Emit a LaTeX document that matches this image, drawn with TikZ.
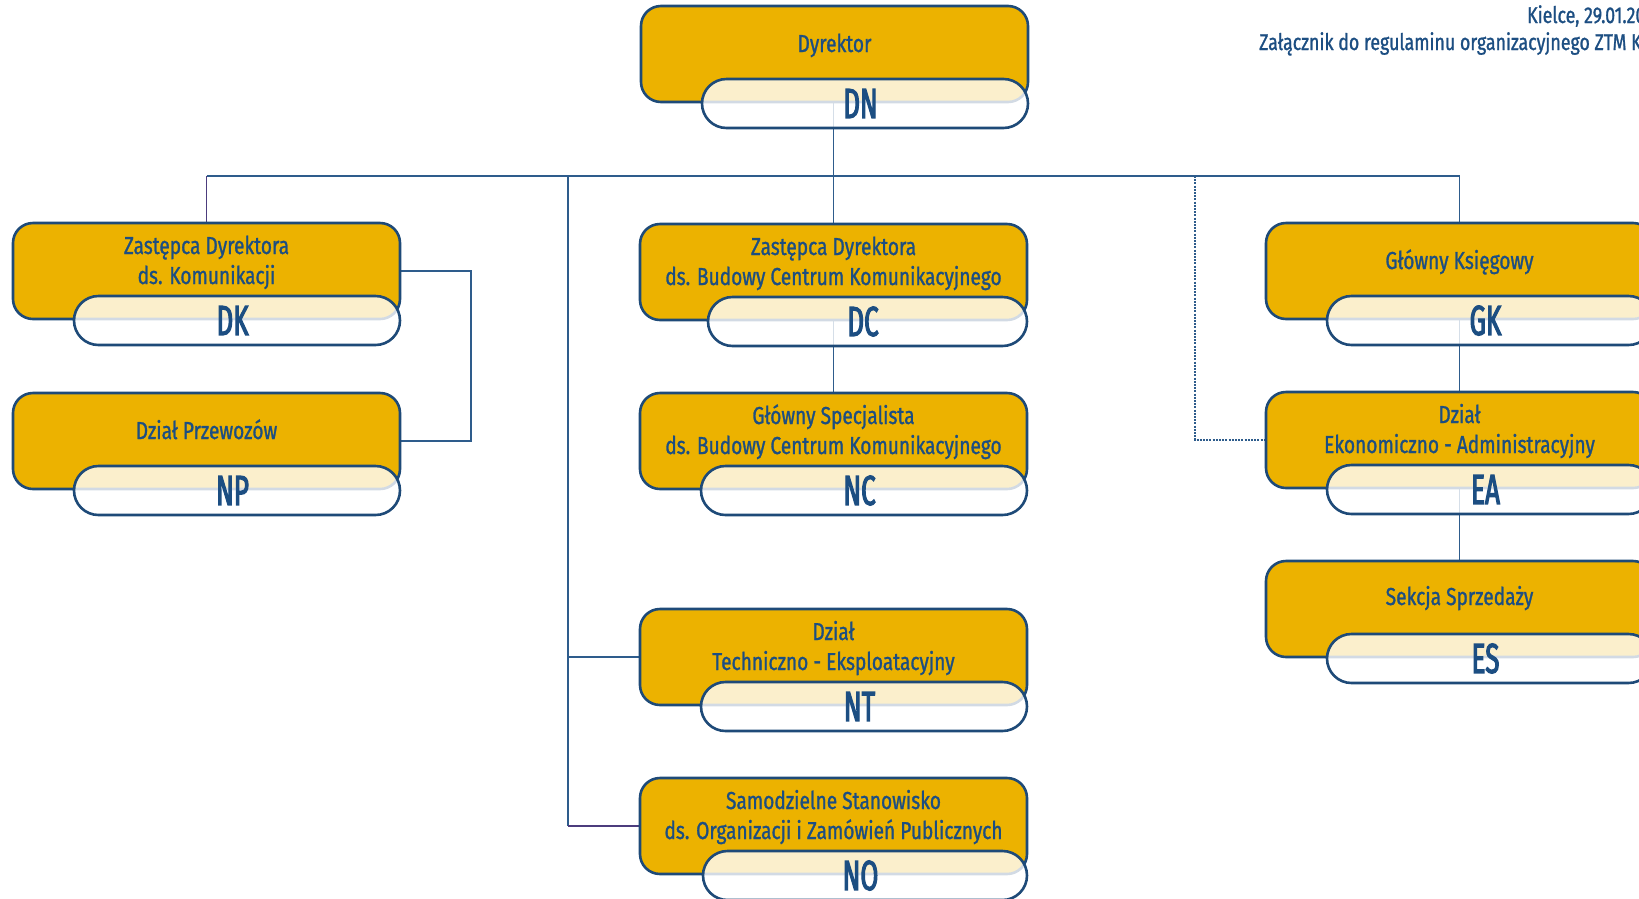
\documentclass[tikz,border=0pt]{standalone}
\usepackage{fontspec}
\setmainfont{Fira Sans}[FakeStretch=0.78,FakeBold=1.1]
\newfontfamily\codefont{Fira Sans}[FakeStretch=0.62,FakeBold=2.6]
\definecolor{gold}{RGB}{236,178,0}
\definecolor{navy}{RGB}{30,74,120}
\definecolor{txtblue}{RGB}{28,78,130}
\definecolor{linkblue}{RGB}{46,92,140}
\definecolor{linkpurple}{RGB}{76,60,125}
\pgfdeclarelayer{bg}
\pgfdeclarelayer{links}
\pgfsetlayers{bg,links,main}
\tikzset{
 unitbox/.style={draw=navy, line width=2.6pt, fill=gold, rounded corners=20pt, minimum width=387pt, minimum height=96pt, inner sep=0pt},
 pill/.style={draw=navy, line width=2.6pt, fill=white, fill opacity=0.8, text opacity=1, rounded corners=24.5pt, minimum height=49pt, inner sep=0pt, text=txtblue, font=\codefont\fontsize{42}{42}\selectfont},
 lbl/.style={anchor=base, inner sep=0pt, text=txtblue, font=\fontsize{24.5}{30}\selectfont},
 hdr/.style={anchor=base west, inner sep=0pt, text=txtblue, font=\fontsize{22.8}{26}\selectfont},
 link/.style={draw=linkblue, line width=1.6pt},
 linkp/.style={draw=linkpurple, line width=1.6pt},
 dotlink/.style={draw=linkblue, line width=1.5pt, dash pattern=on 2pt off 1.2pt},
}
\newcommand\orgunit[5]{%
 \node[unitbox] (#1) at ({#2+193.5},{#3+48}) {};
 \node[pill, minimum width={(#2+387-#4)*1pt}] (#1c) at ({(#4+#2+387)/2},{#3+97.5}) {\hspace*{-9pt}#5};
}
\begin{document}
\begin{tikzpicture}[x=1pt,y=-1pt]
\useasboundingbox (0,0) rectangle (1639,898);
\begin{pgfonlayer}{bg}
\fill[white] (0,0) rectangle (1639,898);
\end{pgfonlayer}

\orgunit{dn}{641}{6}{702}{DN}
\orgunit{dk}{13}{223}{74}{DK}
\orgunit{np}{13}{393}{74}{NP}
\orgunit{dc}{640}{224}{708}{DC}
\orgunit{nc}{640}{393}{701}{NC}
\orgunit{nt}{640}{609}{701}{NT}
\orgunit{no}{640}{778}{703}{NO}
\orgunit{gk}{1266}{223}{1327}{GK}
\orgunit{ea}{1266}{392}{1327}{EA}
\orgunit{es}{1266}{561}{1327}{ES}

\node[lbl] (dn-t) at (834.5,52) {Dyrektor};
\node[lbl] (dk-t1) at (206.5,254) {Zastępca Dyrektora};
\node[lbl] (dk-t2) at (206.5,284) {ds. Komunikacji};
\node[lbl] (np-t) at (206.5,439) {Dział Przewozów};
\node[lbl] (dc-t1) at (833.5,255) {Zastępca Dyrektora};
\node[lbl] (dc-t2) at (833.5,285) {ds. Budowy Centrum Komunikacyjnego};
\node[lbl] (nc-t1) at (833.5,424) {Główny Specjalista};
\node[lbl] (nc-t2) at (833.5,454) {ds. Budowy Centrum Komunikacyjnego};
\node[lbl] (nt-t1) at (833.5,640) {Dział};
\node[lbl] (nt-t2) at (833.5,670) {Techniczno - Eksploatacyjny};
\node[lbl] (no-t1) at (833.5,809) {Samodzielne Stanowisko};
\node[lbl] (no-t2) at (833.5,839) {ds. Organizacji i Zamówień Publicznych};
\node[lbl] (gk-t) at (1459.5,269) {Główny Księgowy};
\node[lbl] (ea-t1) at (1459.5,423) {Dział};
\node[lbl] (ea-t2) at (1459.5,453) {Ekonomiczno - Administracyjny};
\node[lbl] (es-t) at (1459.5,605) {Sekcja Sprzedaży};

\node[hdr] (date) at (1527,23) {Kielce, 29.01.20};
\node[hdr] (att) at (1259,50) {Załącznik do regulaminu organizacyjnego ZTM Ki};

\begin{pgfonlayer}{links}
\coordinate (bus) at (0,176);
\coordinate (lv) at (568,176);
\coordinate (brk) at (471,0);
\coordinate (dv) at (1195,176);
\draw[link] (dc.north |- dn.south) -- (dc.north);
\draw[linkp] (dk.north) -- (dk.north |- bus);
\draw[link] (dk.north |- bus) -- (gk.north |- bus) -- (gk.north);
\draw[link] (lv) -- (lv |- no.west);
\draw[linkp] (lv |- no.west) -- (no.west);
\draw[link] (lv |- nt.west) -- (nt.west);
\draw[link] (dk.east) -- (brk |- dk.east) -- (brk |- np.east) -- (np.east);
\draw[link] (dc.south) -- (nc.north);
\draw[link] (gk.south) -- (ea.north);
\draw[link] (ea.south) -- (es.north);
\draw[dotlink] (dv) |- (ea.west);
\end{pgfonlayer}
\end{tikzpicture}
\end{document}
